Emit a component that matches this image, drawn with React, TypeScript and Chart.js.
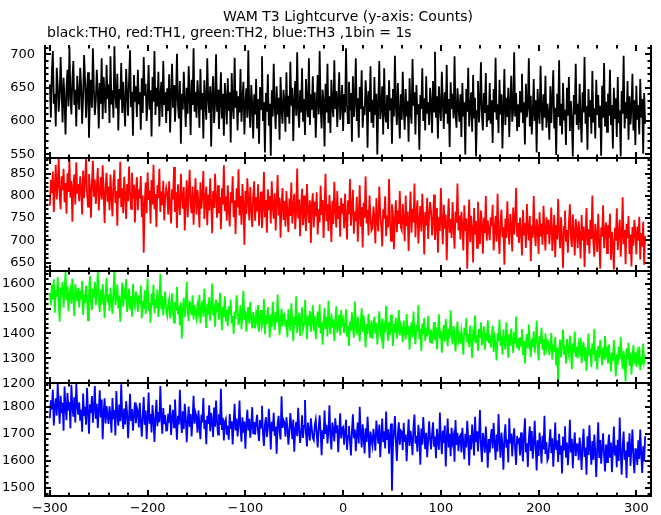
import React, { useEffect, useRef } from "react";
import { Chart, registerables } from "chart.js";

Chart.register(...registerables);

const TITLE = "WAM T3 Lightcurve (y-axis: Counts)";
const SUBTITLE = "black:TH0, red:TH1, green:TH2, blue:TH3 ,1bin = 1s";

const T_START = -300; // seconds, first bin
const BIN_SEC = 1;

// TH0 (black)
const TH0 = [
  655, 605, 672, 705, 626, 641, 592, 680, 654, 614, 637, 696, 646, 598, 665, 632, 580, 649, 677, 622, 711, 640, 610, 662, 690, 624, 647, 592, 668, 636,
  617, 680, 652, 596, 637, 699, 660, 605, 645, 673, 575, 634, 662, 620, 709, 649, 609, 631, 677, 643, 589, 657, 626, 694, 603, 666, 640, 612, 684, 633,
  655, 597, 697, 625, 646, 605, 712, 639, 619, 671, 586, 648, 632, 687, 612, 659, 626, 592, 678, 642, 608, 662, 706, 622, 644, 578, 669, 629, 652, 606,
  677, 625, 643, 587, 664, 612, 696, 638, 656, 600, 632, 684, 617, 646, 577, 666, 629, 705, 609, 650, 622, 674, 592, 639, 659, 606, 690, 624, 643, 597,
  649, 615, 670, 583, 638, 686, 620, 654, 599, 633, 701, 625, 604, 660, 566, 641, 617, 674, 632, 591, 650, 611, 682, 637, 579, 662, 624, 709, 614, 644,
  605, 661, 634, 590, 678, 617, 642, 574, 661, 628, 602, 694, 633, 612, 652, 562, 640, 667, 597, 626, 700, 614, 647, 588, 630, 673, 604, 641, 578, 657,
  634, 595, 664, 615, 643, 568, 672, 624, 603, 695, 620, 645, 586, 637, 613, 678, 599, 631, 659, 580, 627, 649, 605, 706, 618, 590, 654, 625, 574, 640,
  610, 663, 589, 633, 566, 651, 618, 697, 600, 628, 553, 642, 614, 670, 593, 626, 548, 646, 607, 686, 621, 588, 652, 610, 635, 572, 666, 617, 596, 647,
  629, 584, 673, 606, 638, 596, 689, 623, 650, 570, 630, 660, 608, 703, 618, 590, 646, 613, 679, 599, 633, 579, 663, 624, 606, 694, 594, 640, 617, 667,
  605, 643, 575, 626, 669, 610, 705, 620, 589, 647, 630, 562, 656, 613, 686, 597, 637, 582, 662, 621, 606, 691, 618, 645, 591, 631, 673, 602, 624, 654,
  585, 640, 613, 709, 625, 597, 659, 616, 642, 569, 667, 606, 628, 694, 600, 634, 575, 651, 618, 676, 590, 622, 609, 661, 636, 560, 645, 614, 682, 597,
  632, 590, 666, 609, 641, 550, 626, 690, 603, 621, 652, 580, 679, 611, 598, 639, 588, 661, 616, 634, 566, 648, 607, 698, 622, 594, 657, 613, 574, 640,
  602, 674, 619, 587, 648, 607, 630, 569, 664, 615, 596, 693, 623, 643, 580, 654, 610, 625, 557, 639, 618, 679, 600, 634, 586, 667, 611, 628, 594, 650,
  626, 582, 660, 614, 704, 605, 637, 574, 652, 620, 600, 674, 628, 588, 643, 611, 684, 596, 633, 561, 658, 618, 641, 604, 697, 613, 590, 649, 622, 599,
  640, 576, 657, 607, 628, 550, 648, 614, 680, 592, 619, 643, 584, 669, 604, 635, 547, 615, 660, 598, 627, 688, 608, 586, 642, 612, 672, 591, 624, 601,
  657, 596, 631, 567, 648, 613, 695, 602, 625, 582, 662, 610, 640, 559, 620, 678, 594, 635, 606, 650, 576, 628, 668, 599, 615, 703, 607, 642, 585, 625,
  591, 645, 614, 671, 597, 628, 565, 656, 606, 622, 694, 592, 638, 580, 611, 663, 600, 631, 553, 648, 613, 596, 683, 618, 586, 640, 605, 668, 590, 626,
  612, 572, 652, 597, 633, 676, 589, 620, 549, 641, 606, 691, 593, 626, 580, 657, 602, 617, 564, 650, 608, 666, 585, 630, 600, 547, 639, 610, 686, 594,
  626, 587, 656, 603, 568, 643, 613, 696, 596, 622, 557, 648, 606, 631, 581, 675, 598, 619, 574, 662, 609, 639, 590, 623, 548, 653, 605, 687, 592, 629,
  584, 641, 608, 677, 594, 624, 559, 650, 603, 634, 576, 666, 597, 616, 547, 645, 611, 698, 589, 628, 604, 660, 572, 637, 595, 618, 671, 586, 631, 564,
  653, 602, 624, 580, 663, 605, 633, 551, 642, 596,
];

// TH1 (red)
const TH1 = [
  778, 836, 806, 855, 764, 817, 870, 792, 825, 884, 801, 770, 844, 813, 861, 786, 829, 760, 851, 809, 882, 796, 834, 742, 820, 848, 781, 876, 805, 827,
  788, 844, 815, 758, 857, 795, 832, 885, 809, 776, 849, 817, 751, 829, 879, 798, 837, 782, 821, 863, 767, 810, 842, 792, 869, 803, 739, 824, 852, 787,
  821, 768, 848, 799, 754, 830, 859, 784, 811, 733, 838, 795, 877, 775, 817, 761, 843, 804, 748, 827, 788, 866, 809, 771, 852, 794, 825, 740, 812, 842,
  768, 815, 794, 845, 752, 801, 672, 783, 830, 761, 853, 791, 812, 738, 836, 781, 870, 770, 804, 730, 824, 795, 861, 764, 810, 779, 834, 745, 797, 818,
  805, 758, 833, 776, 738, 815, 792, 865, 764, 808, 728, 826, 785, 757, 850, 797, 771, 820, 722, 787, 835, 752, 806, 859, 780, 761, 821, 735, 794, 840,
  758, 813, 782, 729, 831, 771, 799, 856, 748, 790, 821, 734, 803, 767, 840, 784, 716, 811, 773, 850, 792, 751, 824, 761, 797, 725, 817, 781, 869, 766,
  799, 744, 824, 768, 731, 808, 784, 844, 752, 790, 714, 817, 774, 860, 756, 800, 735, 827, 779, 690, 811, 759, 840, 789, 745, 820, 769, 730, 801, 833,
  744, 797, 765, 826, 733, 783, 810, 728, 773, 854, 752, 791, 717, 815, 768, 800, 738, 833, 776, 749, 806, 722, 787, 847, 756, 796, 706, 780, 818, 746,
  788, 731, 811, 763, 718, 794, 755, 830, 738, 777, 805, 725, 768, 862, 749, 792, 709, 775, 816, 734, 801, 759, 721, 827, 770, 739, 790, 694, 780, 806,
  729, 787, 754, 808, 713, 770, 740, 823, 757, 791, 705, 775, 850, 743, 781, 721, 802, 761, 696, 789, 737, 832, 766, 729, 811, 748, 777, 708, 795, 760,
  783, 727, 805, 751, 702, 790, 759, 838, 733, 771, 814, 715, 765, 743, 798, 697, 756, 824, 731, 775, 684, 785, 751, 844, 738, 769, 711, 801, 755, 722,
  727, 776, 752, 693, 795, 743, 720, 821, 760, 733, 686, 770, 749, 799, 709, 756, 729, 838, 742, 699, 781, 758, 680, 748, 790, 718, 767, 737, 811, 730,
  723, 782, 747, 698, 801, 732, 765, 676, 754, 810, 717, 771, 740, 828, 707, 758, 790, 693, 745, 777, 720, 805, 752, 668, 764, 733, 796, 703, 755, 786,
  765, 711, 743, 803, 701, 736, 773, 672, 752, 721, 818, 741, 691, 780, 726, 758, 655, 738, 794, 717, 748, 705, 786, 731, 681, 765, 740, 828, 722, 756,
  702, 764, 732, 677, 779, 721, 749, 636, 735, 792, 696, 755, 725, 650, 773, 713, 744, 683, 787, 730, 692, 767, 737, 670, 751, 716, 800, 699, 745, 722,
  700, 752, 732, 780, 677, 724, 755, 697, 805, 715, 669, 743, 769, 707, 730, 645, 749, 705, 788, 727, 690, 759, 735, 675, 774, 713, 745, 818, 708, 739,
  694, 751, 720, 666, 768, 711, 739, 683, 782, 723, 700, 755, 653, 733, 706, 800, 719, 687, 748, 728, 669, 763, 709, 737, 690, 778, 725, 677, 752, 714,
  746, 691, 727, 774, 676, 713, 757, 662, 734, 702, 793, 720, 682, 752, 707, 637, 730, 767, 697, 723, 672, 740, 781, 708, 685, 758, 716, 666, 748, 724,
  682, 743, 709, 659, 757, 700, 731, 640, 716, 773, 689, 725, 670, 746, 703, 801, 697, 663, 737, 713, 674, 760, 699, 636, 729, 708, 779, 682, 722, 740,
  671, 734, 706, 760, 656, 719, 690, 634, 728, 699, 772, 678, 716, 747, 663, 708, 797, 691, 723, 646, 737, 705, 755, 669, 713, 641, 730, 688, 746, 717,
  668, 731, 699, 753, 657, 716, 686, 742, 645, 710,
];

// TH2 (green)
const TH2 = [
  1563, 1514, 1597, 1537, 1618, 1483, 1575, 1547, 1627, 1526, 1447, 1586, 1554, 1607, 1505, 1571, 1648, 1534, 1591, 1489, 1561, 1579, 1520, 1621, 1544, 1470, 1599, 1565, 1530, 1583,
  1505, 1571, 1537, 1612, 1474, 1556, 1522, 1592, 1550, 1453, 1566, 1631, 1526, 1494, 1580, 1545, 1608, 1514, 1562, 1650, 1534, 1486, 1575, 1517, 1599, 1541, 1462, 1560, 1624, 1525,
  1556, 1490, 1584, 1531, 1479, 1570, 1651, 1514, 1544, 1597, 1500, 1552, 1446, 1528, 1605, 1508, 1564, 1537, 1619, 1486, 1520, 1580, 1496, 1551, 1467, 1600, 1527, 1507, 1568, 1535,
  1487, 1553, 1520, 1593, 1460, 1530, 1500, 1573, 1478, 1540, 1621, 1491, 1523, 1443, 1560, 1514, 1597, 1481, 1537, 1503, 1577, 1466, 1519, 1640, 1497, 1551, 1472, 1526, 1569, 1490,
  1470, 1515, 1538, 1460, 1504, 1561, 1484, 1444, 1526, 1491, 1588, 1477, 1511, 1432, 1524, 1380, 1497, 1543, 1466, 1520, 1608, 1488, 1449, 1532, 1502, 1473, 1553, 1456, 1514, 1483,
  1460, 1514, 1487, 1555, 1441, 1500, 1532, 1467, 1580, 1490, 1422, 1519, 1477, 1545, 1451, 1504, 1601, 1472, 1497, 1427, 1536, 1485, 1522, 1455, 1563, 1492, 1413, 1508, 1465, 1549,
  1448, 1494, 1429, 1508, 1476, 1536, 1440, 1470, 1398, 1488, 1459, 1553, 1498, 1434, 1466, 1513, 1417, 1480, 1572, 1455, 1491, 1407, 1472, 1506, 1439, 1527, 1462, 1420, 1486, 1456,
  1420, 1479, 1451, 1514, 1407, 1462, 1494, 1430, 1447, 1538, 1397, 1471, 1438, 1506, 1456, 1384, 1476, 1425, 1527, 1460, 1414, 1487, 1443, 1556, 1466, 1393, 1459, 1499, 1428, 1473,
  1478, 1425, 1456, 1385, 1497, 1442, 1411, 1521, 1451, 1369, 1467, 1434, 1549, 1402, 1449, 1483, 1390, 1460, 1505, 1417, 1440, 1535, 1461, 1377, 1472, 1430, 1490, 1406, 1453, 1513,
  1411, 1470, 1377, 1442, 1488, 1424, 1517, 1400, 1446, 1355, 1436, 1502, 1418, 1466, 1388, 1531, 1439, 1397, 1480, 1423, 1457, 1370, 1449, 1509, 1403, 1430, 1476, 1392, 1494, 1440,
  1457, 1402, 1441, 1497, 1387, 1431, 1350, 1449, 1412, 1485, 1425, 1383, 1528, 1436, 1396, 1468, 1417, 1368, 1445, 1501, 1406, 1472, 1428, 1344, 1438, 1397, 1479, 1419, 1382, 1452,
  1379, 1433, 1468, 1398, 1443, 1356, 1421, 1489, 1412, 1387, 1459, 1339, 1430, 1406, 1511, 1419, 1371, 1447, 1395, 1476, 1427, 1350, 1438, 1403, 1463, 1380, 1416, 1494, 1392, 1436,
  1422, 1366, 1452, 1406, 1375, 1478, 1395, 1430, 1335, 1413, 1445, 1385, 1488, 1402, 1357, 1435, 1409, 1514, 1377, 1419, 1330, 1440, 1398, 1462, 1370, 1424, 1388, 1471, 1407, 1362,
  1416, 1359, 1399, 1446, 1373, 1425, 1336, 1405, 1477, 1380, 1412, 1323, 1397, 1434, 1367, 1458, 1391, 1349, 1419, 1380, 1493, 1401, 1357, 1430, 1384, 1328, 1408, 1448, 1372, 1394,
  1359, 1411, 1380, 1315, 1423, 1393, 1461, 1364, 1399, 1345, 1432, 1373, 1302, 1404, 1386, 1473, 1361, 1394, 1330, 1418, 1382, 1445, 1352, 1389, 1429, 1335, 1401, 1371, 1453, 1362,
  1397, 1344, 1375, 1432, 1326, 1384, 1357, 1292, 1402, 1368, 1456, 1350, 1389, 1316, 1416, 1365, 1335, 1445, 1380, 1303, 1399, 1351, 1420, 1370, 1322, 1405, 1361, 1468, 1341, 1381,
  1332, 1385, 1351, 1418, 1314, 1370, 1280, 1361, 1397, 1339, 1436, 1354, 1305, 1380, 1345, 1409, 1323, 1366, 1452, 1349, 1292, 1390, 1359, 1423, 1335, 1377, 1312, 1400, 1343, 1370,
  1366, 1313, 1349, 1403, 1295, 1355, 1326, 1386, 1271, 1344, 1205, 1333, 1375, 1304, 1362, 1416, 1319, 1350, 1279, 1378, 1335, 1311, 1392, 1342, 1256, 1360, 1323, 1408, 1306, 1347,
  1300, 1355, 1328, 1384, 1280, 1336, 1366, 1291, 1345, 1249, 1320, 1400, 1309, 1339, 1264, 1360, 1316, 1418, 1289, 1332, 1255, 1350, 1303, 1374, 1325, 1272, 1343, 1296, 1390, 1314,
  1334, 1280, 1356, 1302, 1247, 1323, 1290, 1374, 1308, 1227, 1316, 1274, 1346, 1296, 1386, 1312, 1256, 1329, 1284, 1207, 1340, 1299, 1363, 1270, 1320, 1235, 1305, 1352, 1279, 1324,
  1267, 1321, 1293, 1347, 1252, 1306, 1275, 1360, 1287, 1313,
];

// TH3 (blue)
const TH3 = [
  1757, 1823, 1790, 1862, 1731, 1798, 1830, 1767, 1883, 1808, 1737, 1840, 1776, 1814, 1711, 1874, 1795, 1750, 1850, 1785, 1817, 1720, 1880, 1800, 1763, 1834, 1742, 1884, 1803, 1770,
  1816, 1748, 1789, 1708, 1848, 1765, 1799, 1733, 1868, 1782, 1700, 1809, 1777, 1839, 1741, 1793, 1876, 1755, 1810, 1721, 1786, 1860, 1760, 1826, 1680, 1778, 1831, 1738, 1802, 1768,
  1736, 1801, 1770, 1704, 1832, 1754, 1787, 1694, 1857, 1773, 1730, 1808, 1746, 1882, 1764, 1718, 1793, 1734, 1820, 1777, 1684, 1759, 1847, 1750, 1791, 1711, 1770, 1816, 1739, 1797,
  1782, 1723, 1814, 1748, 1689, 1766, 1835, 1733, 1786, 1681, 1758, 1852, 1737, 1773, 1705, 1806, 1754, 1670, 1764, 1825, 1728, 1780, 1743, 1876, 1759, 1700, 1795, 1735, 1769, 1712,
  1713, 1774, 1740, 1807, 1696, 1757, 1788, 1724, 1826, 1747, 1678, 1766, 1734, 1862, 1754, 1703, 1783, 1718, 1810, 1762, 1669, 1743, 1800, 1726, 1773, 1690, 1756, 1840, 1737, 1777,
  1763, 1704, 1786, 1731, 1680, 1770, 1742, 1832, 1718, 1751, 1662, 1766, 1736, 1805, 1709, 1777, 1748, 1688, 1797, 1726, 1822, 1745, 1697, 1772, 1732, 1866, 1714, 1759, 1675, 1743,
  1754, 1697, 1729, 1678, 1773, 1718, 1746, 1661, 1740, 1810, 1712, 1756, 1690, 1733, 1822, 1721, 1671, 1761, 1704, 1745, 1645, 1735, 1788, 1712, 1755, 1686, 1729, 1798, 1699, 1743,
  1697, 1741, 1770, 1707, 1674, 1751, 1723, 1803, 1702, 1655, 1734, 1761, 1688, 1718, 1792, 1731, 1642, 1744, 1710, 1777, 1693, 1727, 1627, 1738, 1766, 1705, 1679, 1838, 1722, 1750,
  1740, 1689, 1761, 1722, 1660, 1706, 1776, 1731, 1680, 1752, 1634, 1713, 1744, 1691, 1796, 1720, 1666, 1703, 1768, 1685, 1729, 1824, 1699, 1653, 1741, 1710, 1675, 1757, 1717, 1684,
  1676, 1731, 1752, 1697, 1650, 1722, 1768, 1707, 1621, 1714, 1681, 1786, 1700, 1733, 1664, 1710, 1805, 1690, 1642, 1741, 1716, 1672, 1757, 1702, 1731, 1632, 1708, 1775, 1683, 1720,
  1725, 1660, 1704, 1752, 1641, 1692, 1729, 1673, 1620, 1710, 1772, 1684, 1716, 1636, 1698, 1741, 1664, 1799, 1700, 1650, 1735, 1687, 1628, 1720, 1670, 1763, 1695, 1611, 1708, 1679,
  1656, 1718, 1684, 1638, 1749, 1700, 1664, 1734, 1614, 1690, 1756, 1669, 1709, 1646, 1782, 1677, 1717, 1627, 1693, 1738, 1490, 1657, 1705, 1765, 1673, 1600, 1697, 1742, 1660, 1712,
  1707, 1640, 1740, 1670, 1697, 1599, 1684, 1753, 1655, 1711, 1680, 1621, 1727, 1771, 1664, 1693, 1634, 1733, 1688, 1586, 1719, 1660, 1762, 1691, 1643, 1704, 1614, 1673, 1746, 1682,
  1642, 1699, 1742, 1656, 1690, 1610, 1718, 1672, 1641, 1778, 1684, 1625, 1711, 1666, 1730, 1580, 1680, 1756, 1650, 1700, 1617, 1722, 1669, 1691, 1597, 1751, 1659, 1704, 1636, 1687,
  1694, 1631, 1722, 1664, 1606, 1700, 1650, 1748, 1678, 1583, 1695, 1642, 1734, 1686, 1620, 1763, 1669, 1709, 1635, 1691, 1787, 1654, 1596, 1703, 1675, 1630, 1727, 1660, 1575, 1681,
  1630, 1689, 1717, 1646, 1740, 1668, 1604, 1697, 1635, 1773, 1676, 1612, 1704, 1660, 1568, 1691, 1735, 1649, 1679, 1594, 1757, 1665, 1700, 1617, 1684, 1720, 1642, 1585, 1692, 1670,
  1677, 1620, 1705, 1650, 1598, 1690, 1757, 1632, 1665, 1578, 1683, 1727, 1637, 1710, 1608, 1660, 1748, 1652, 1565, 1676, 1618, 1704, 1661, 1591, 1693, 1642, 1766, 1626, 1670, 1602,
  1612, 1669, 1717, 1629, 1683, 1579, 1651, 1741, 1640, 1675, 1596, 1700, 1623, 1657, 1554, 1690, 1642, 1728, 1613, 1668, 1584, 1646, 1752, 1631, 1682, 1573, 1653, 1705, 1618, 1662,
  1661, 1603, 1686, 1640, 1567, 1664, 1718, 1615, 1649, 1549, 1691, 1622, 1731, 1642, 1586, 1673, 1605, 1697, 1634, 1541, 1655, 1742, 1611, 1677, 1590, 1646, 1702, 1620, 1561, 1660,
  1596, 1655, 1697, 1612, 1668, 1559, 1639, 1727, 1620, 1658, 1577, 1678, 1600, 1760, 1630, 1549, 1652, 1708, 1605, 1638, 1537, 1671, 1615, 1702, 1582, 1645, 1716, 1609, 1555, 1643,
  1642, 1585, 1676, 1607, 1716, 1626, 1556, 1654, 1598, 1691,
];

const SERIES = [TH0, TH1, TH2, TH3];
const SERIES_NAMES = ["TH0", "TH1", "TH2", "TH3"];
const SERIES_COLORS = ["#000000", "#ff0000", "#00ff00", "#0000ff"];

// x axis
const X_LIMITS = [-305, 315];
const X_TICKS = [-300, -200, -100, 0, 100, 200, 300];
const X_MINOR_STEP = 20;

// y axes (one per panel, top to bottom)
const Y_LIMITS = [
  [545, 714],
  [632, 886],
  [1200, 1653],
  [1471, 1886],
];
const Y_TICKS = [
  [550, 600, 650, 700],
  [650, 700, 750, 800, 850],
  [1200, 1300, 1400, 1500, 1600],
  [1500, 1600, 1700, 1800],
];
const Y_MINOR_STEP = [10, 10, 20, 20];

const FONT = "'DejaVu Sans', 'Liberation Sans', sans-serif";

function minorValues(min: number, max: number, step: number) {
  const out: number[] = [];
  const start = Math.ceil(min / step) * step;
  for (let v = start; v <= max; v += step) out.push(v);
  return out;
}

const framePlugin = {
  id: "frame",
  afterDatasetsDraw(chart: any) {
    const ctx = chart.ctx as CanvasRenderingContext2D;
    const area = chart.chartArea;
    const left = Math.round(area.left);
    const right = Math.round(area.right);
    const xs = chart.scales.x;
    ctx.save();
    ctx.strokeStyle = "#000";
    ctx.lineWidth = 2;
    ctx.lineCap = "butt";

    const line = (x1: number, y1: number, x2: number, y2: number) => {
      ctx.beginPath();
      ctx.moveTo(x1, y1);
      ctx.lineTo(x2, y2);
      ctx.stroke();
    };

    const xMinor = minorValues(X_LIMITS[0], X_LIMITS[1], X_MINOR_STEP);

    SERIES.forEach((_, i) => {
      const ys = chart.scales["y" + i];
      const top = Math.round(ys.top);
      const bottom = Math.round(ys.bottom);
      line(left, top, left, bottom);
      line(right, top, right, bottom);
      line(left - 1, bottom, right + 1, bottom);
      if (i > 0) line(left - 1, top, right + 1, top);

      xMinor.forEach((v) => {
        const px = Math.round(xs.getPixelForValue(v));
        const major = X_TICKS.includes(v);
        const len = major ? 6 : 3.5;
        line(px, top, px, top + len);
        line(px, bottom, px, bottom - len);
      });

      const [ymin, ymax] = Y_LIMITS[i];
      minorValues(ymin, ymax, Y_MINOR_STEP[i]).forEach((v) => {
        const py = Math.round(ys.getPixelForValue(v));
        const major = Y_TICKS[i].includes(v);
        const len = major ? 6 : 3.5;
        line(left, py, left + len, py);
        line(right, py, right - len, py);
      });
    });
    ctx.restore();
  },
  afterDraw(chart: any) {
    const ctx = chart.ctx as CanvasRenderingContext2D;
    const area = chart.chartArea;
    ctx.save();
    ctx.fillStyle = "#000";
    ctx.font = `14px ${FONT}`;
    ctx.textBaseline = "alphabetic";
    ctx.textAlign = "center";
    ctx.fillText(TITLE, (area.left + area.right) / 2, 21);
    ctx.textAlign = "left";
    ctx.fillText(SUBTITLE, area.left + 2, 37);
    ctx.restore();
  },
};

export default function App() {
  const canvasRef = useRef<HTMLCanvasElement | null>(null);

  useEffect(() => {
    const canvas = canvasRef.current;
    if (!canvas) return;

    const datasets = SERIES.map((values, i) => ({
      label: SERIES_NAMES[i],
      data: values.map((v, k) => ({ x: T_START + k * BIN_SEC, y: v })),
      yAxisID: "y" + i,
      borderColor: SERIES_COLORS[i],
      backgroundColor: SERIES_COLORS[i],
      borderWidth: 1.8,
      pointRadius: 0,
      pointHoverRadius: 0,
      tension: 0,
      fill: false,
    }));

    const scales: any = {
      x: {
        type: "linear",
        position: "bottom",
        min: X_LIMITS[0],
        max: X_LIMITS[1],
        grid: { display: false, drawTicks: false },
        border: { display: false },
        ticks: {
          color: "#000",
          font: { family: FONT, size: 13 },
          padding: 5,
          maxRotation: 0,
          autoSkip: false,
          callback: (v: number) => String(v).replace("-", "\u2212"),
        },
        afterBuildTicks: (scale: any) => {
          scale.ticks = X_TICKS.map((v) => ({ value: v }));
        },
        afterFit: (scale: any) => {
          scale.height = 19;
        },
      },
    };
    SERIES.forEach((_, i) => {
      scales["y" + i] = {
        type: "linear",
        position: "left",
        stack: "panels",
        stackWeight: 1,
        weight: SERIES.length - i,
        offset: false,
        min: Y_LIMITS[i][0],
        max: Y_LIMITS[i][1],
        grid: { display: false, drawTicks: false },
        border: { display: false },
        ticks: {
          color: "#000",
          font: { family: FONT, size: 13 },
          padding: 10,
          autoSkip: false,
          callback: (v: number) => String(v),
        },
        afterBuildTicks: (scale: any) => {
          scale.ticks = Y_TICKS[i].map((v) => ({ value: v }));
        },
        afterFit: (scale: any) => {
          scale.width = 45;
        },
      };
    });

    const chart = new Chart(canvas, {
      type: "line",
      data: { datasets },
      options: {
        animation: false,
        responsive: false,
        devicePixelRatio: 1,
        layout: { padding: { top: 45, right: 10, left: 0, bottom: 0 } },
        plugins: {
          legend: { display: false },
          tooltip: { enabled: false },
          title: { display: false },
        },
        events: [],
        scales,
      } as any,
      plugins: [framePlugin],
    });

    return () => chart.destroy();
  }, []);

  return (
    <div
      style={{
        position: "fixed",
        left: 0,
        top: 0,
        width: 661,
        height: 515,
        background: "#ffffff",
      }}
    >
      <canvas ref={canvasRef} width={661} height={515} style={{ display: "block" }} />
    </div>
  );
}
